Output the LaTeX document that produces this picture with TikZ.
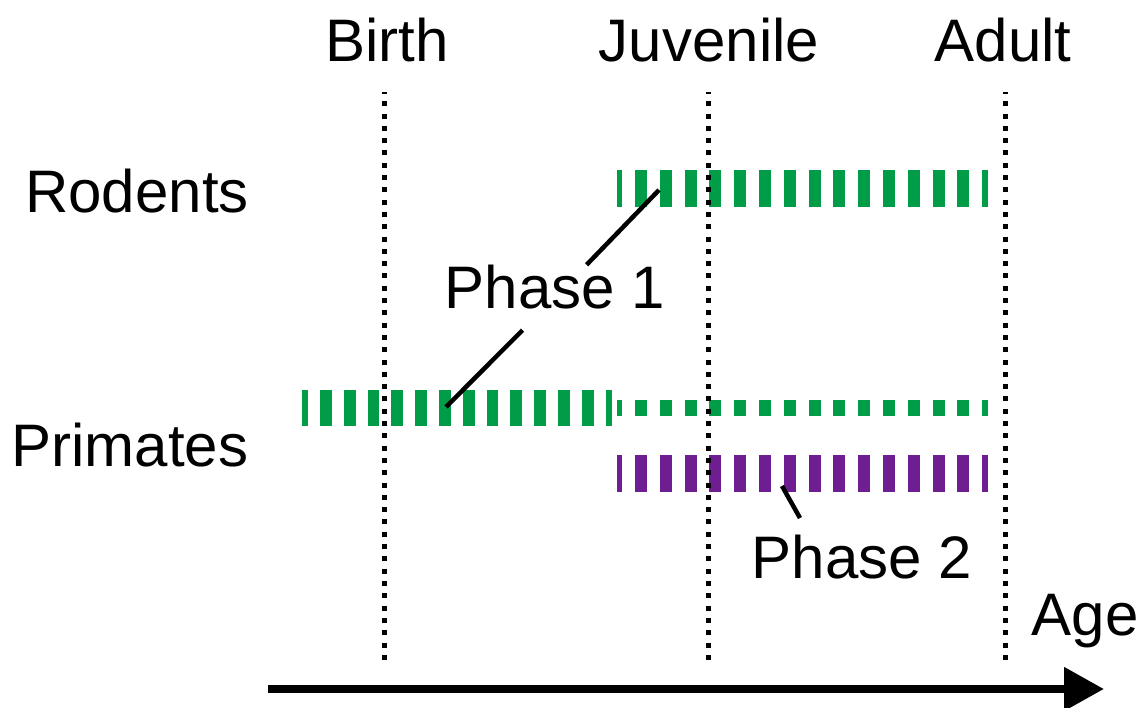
\documentclass[tikz,border=0pt]{standalone}
\usepackage{fontspec}
\setmainfont{Liberation Sans}
\usetikzlibrary{arrows.meta}
\definecolor{phaseone}{RGB}{0,156,72}
\definecolor{phasetwo}{RGB}{110,30,144}
\begin{document}
\begin{tikzpicture}[x=1pt,y=-1pt,
  lbl/.style={font=\fontsize{60}{72}\selectfont, inner sep=0pt, anchor=base},
  stageline/.style={line width=5pt, dash pattern=on 5pt off 7.3pt, dash phase=3pt},
  dashbar/.style={line width=#1, dash pattern=on 12pt off 12.8pt, dash phase=6.8pt},
  widebar/.style={line width=#1, dash pattern=on 11.8pt off 12pt, dash phase=5.8pt},
  lead/.style={line width=4.5pt},
]
\useasboundingbox (0,0) rectangle (1144,708);

% developmental stage markers
\coordinate (b1) at (384,92);  \coordinate (b2) at (384,662);
\coordinate (j1) at (708,92);  \coordinate (j2) at (708,662);
\coordinate (a1) at (1005,92); \coordinate (a2) at (1005,662);

% window bars
\coordinate (r1) at (617,188.5); \coordinate (r2) at (988,188.5);
\coordinate (pw1) at (302,408);  \coordinate (pw2) at (612,408);
\coordinate (pn1) at (617,408);  \coordinate (pn2) at (988,408);
\coordinate (pp1) at (617,473.5);\coordinate (pp2) at (988,473.5);

\draw[dashbar=37pt, phaseone] (r1) -- (r2);
\draw[widebar=36pt, phaseone] (pw1) -- (pw2);
\draw[dashbar=16pt, phaseone] (pn1) -- (pn2);
\draw[dashbar=37pt, phasetwo] (pp1) -- (pp2);

\draw[stageline] (b1) -- (b2);
\draw[stageline] (j1) -- (j2);
\draw[stageline] (a1) -- (a2);

% labels
\node[lbl] (birth) at (387,62) {Birth};
\node[lbl] (juv) at (709,62) {Juvenile};
\node[lbl] (adult) at (1003,62) {Adult};
\node[lbl] (rodents) at (137,213) {Rodents};
\node[lbl] (primates) at (130,467) {Primates};
\node[lbl, text height=44pt, text depth=21pt] (phase1) at (555,309) {Phase 1};
\node[lbl] (phase2) at (862,578) {Phase 2};
\node[lbl] (age) at (1085,635) {Age};

% leader lines
\coordinate (p1top) at (659,190);
\coordinate (p1bot) at (446,407);
\draw[lead] (p1top) -- (phase1);
\draw[lead] (phase1) -- (p1bot);
\coordinate (p2a) at (782,486);
\coordinate (p2b) at (800,518);
\draw[lead] (p2a) -- (p2b);

% age axis
\coordinate (axs) at (268,689);
\coordinate (axe) at (1104,689);
\draw[line width=8pt, -{Triangle[length=40pt,width=42pt]}] (axs) -- (axe);
\end{tikzpicture}
\end{document}
